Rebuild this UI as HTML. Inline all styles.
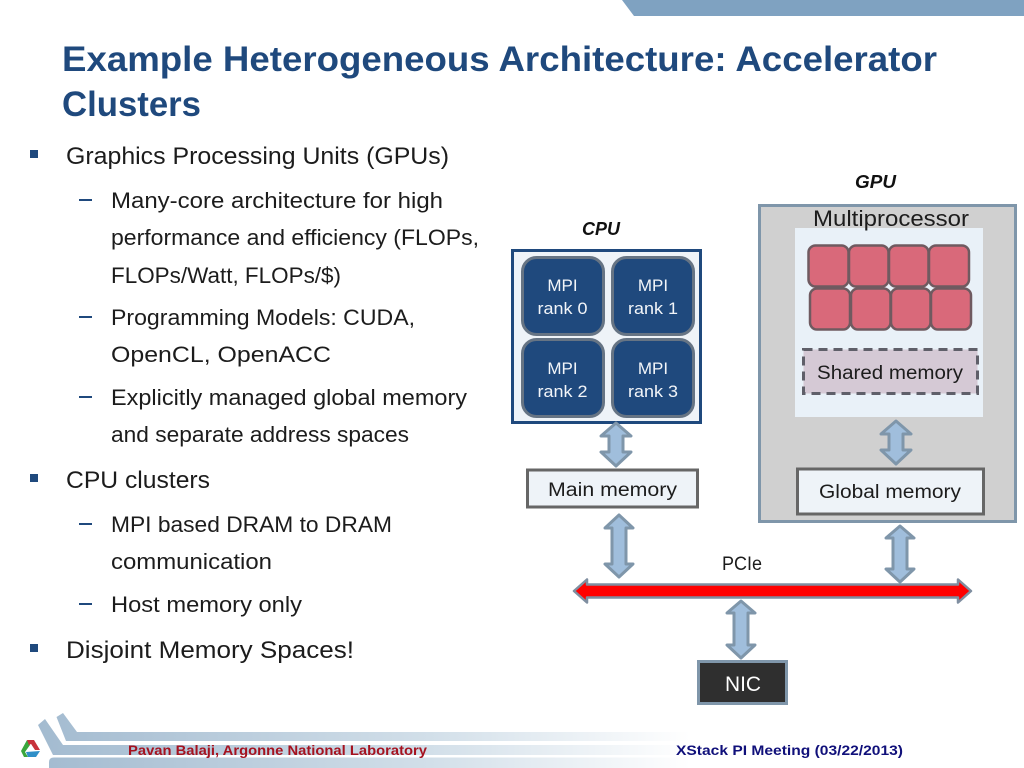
<!DOCTYPE html>
<html><head><meta charset="utf-8"><style>
html,body{margin:0;padding:0;background:#fff}
svg{display:block}
text{font-family:"Liberation Sans",sans-serif}
.b{font-size:24px;fill:#1c1c1c}
.s{font-size:22px;fill:#1c1c1c}
.t{font-size:35px;font-weight:bold;fill:#1f497d}
.m{font-size:17px;fill:#f2f5f9;text-anchor:middle}
.a{fill:#a0bedc;stroke:#7f96aa;stroke-width:3;stroke-linejoin:round}
</style></head><body>
<svg width="1024" height="768" viewBox="0 0 1024 768" xmlns="http://www.w3.org/2000/svg">
<defs><linearGradient id="g" gradientUnits="userSpaceOnUse" x1="40" y1="0" x2="690" y2="0"><stop offset="0" stop-color="#a3bbd0"/><stop offset=".6" stop-color="#d2dfe9"/><stop offset="1" stop-color="#fff"/></linearGradient></defs>
<rect width="1024" height="768" fill="#fff"/>
<polygon points="622,0 634,16 1024,16 1024,0" fill="#7fa2c1"/>
<text class="t" x="62" y="71" textLength="875" lengthAdjust="spacingAndGlyphs">Example Heterogeneous Architecture: Accelerator</text>
<text class="t" x="62" y="116" textLength="139" lengthAdjust="spacingAndGlyphs">Clusters</text>

<rect x="30" y="150" width="8" height="8" fill="#1f497d"/>
<rect x="30" y="474" width="8" height="8" fill="#1f497d"/>
<rect x="30" y="644" width="8" height="8" fill="#1f497d"/>
<g fill="#1f497d"><rect x="79" y="199" width="13" height="2"/><rect x="79" y="316" width="13" height="2"/><rect x="79" y="396" width="13" height="2"/><rect x="79" y="523" width="13" height="2"/><rect x="79" y="603" width="13" height="2"/></g>
<text class="b" x="66" y="164" textLength="383" lengthAdjust="spacingAndGlyphs">Graphics Processing Units (GPUs)</text>
<text class="s" x="111" y="208" textLength="332" lengthAdjust="spacingAndGlyphs">Many-core architecture for high</text>
<text class="s" x="111" y="245" textLength="368" lengthAdjust="spacingAndGlyphs">performance and efficiency (FLOPs,</text>
<text class="s" x="111" y="283" textLength="230" lengthAdjust="spacingAndGlyphs">FLOPs/Watt, FLOPs/$)</text>
<text class="s" x="111" y="325" textLength="304" lengthAdjust="spacingAndGlyphs">Programming Models: CUDA,</text>
<text class="s" x="111" y="362" textLength="220" lengthAdjust="spacingAndGlyphs">OpenCL, OpenACC</text>
<text class="s" x="111" y="405" textLength="356" lengthAdjust="spacingAndGlyphs">Explicitly managed global memory</text>
<text class="s" x="111" y="442" textLength="298" lengthAdjust="spacingAndGlyphs">and separate address spaces</text>
<text class="b" x="66" y="488" textLength="144" lengthAdjust="spacingAndGlyphs">CPU clusters</text>
<text class="s" x="111" y="532" textLength="281" lengthAdjust="spacingAndGlyphs">MPI based DRAM to DRAM</text>
<text class="s" x="111" y="569" textLength="161" lengthAdjust="spacingAndGlyphs">communication</text>
<text class="s" x="111" y="612" textLength="191" lengthAdjust="spacingAndGlyphs">Host memory only</text>
<text class="b" x="66" y="658" textLength="288" lengthAdjust="spacingAndGlyphs">Disjoint Memory Spaces!</text>

<!-- CPU -->
<text x="582" y="235" font-size="18" font-weight="bold" font-style="italic" fill="#111" textLength="38" lengthAdjust="spacingAndGlyphs">CPU</text>
<rect x="512.500" y="250.500" width="188" height="172" fill="#eef3f8" stroke="#1f497d" stroke-width="3"/>
<g fill="#1f497d" stroke="#667484" stroke-width="3">
<rect x="522.500" y="257.500" width="81" height="77" rx="14"/>
<rect x="612.500" y="257.500" width="81" height="77" rx="14"/>
<rect x="522.500" y="339.500" width="81" height="77" rx="14"/>
<rect x="612.500" y="339.500" width="81" height="77" rx="14"/>
</g>
<text class="m" x="562.500" y="291">MPI</text><text class="m" x="562.500" y="314" textLength="50" lengthAdjust="spacingAndGlyphs">rank 0</text>
<text class="m" x="653" y="291">MPI</text><text class="m" x="653" y="314" textLength="50" lengthAdjust="spacingAndGlyphs">rank 1</text>
<text class="m" x="562.500" y="374">MPI</text><text class="m" x="562.500" y="397" textLength="50" lengthAdjust="spacingAndGlyphs">rank 2</text>
<text class="m" x="653" y="374">MPI</text><text class="m" x="653" y="397" textLength="50" lengthAdjust="spacingAndGlyphs">rank 3</text>

<!-- GPU -->
<text x="855" y="188" font-size="18" font-weight="bold" font-style="italic" fill="#111" textLength="41" lengthAdjust="spacingAndGlyphs">GPU</text>
<rect x="759.500" y="205.500" width="256" height="316" fill="#d0d0d0" stroke="#7f96aa" stroke-width="3"/>
<rect x="795" y="228" width="188" height="189" fill="#e9f1f8"/>
<text x="813" y="226" font-size="22" fill="#1c1c1c" textLength="156" lengthAdjust="spacingAndGlyphs">Multiprocessor</text>
<g fill="#d9697a" stroke="#6f5a60" stroke-width="2.500">
<rect x="808.500" y="245.500" width="40" height="41" rx="7"/><rect x="849" y="245.500" width="39.500" height="41" rx="7"/><rect x="889" y="245.500" width="39.500" height="41" rx="7"/><rect x="929" y="245.500" width="40" height="41" rx="7"/>
<rect x="810" y="288.500" width="40" height="41" rx="7"/><rect x="851" y="288.500" width="39.500" height="41" rx="7"/><rect x="891" y="288.500" width="39.500" height="41" rx="7"/><rect x="931" y="288.500" width="40" height="41" rx="7"/>
</g>
<rect x="803.500" y="349.500" width="174" height="44" fill="#d5c9d5" stroke="#5f5f69" stroke-width="3" stroke-dasharray="9 6"/>
<text x="817" y="379" font-size="19" fill="#1c1c1c" textLength="146" lengthAdjust="spacingAndGlyphs">Shared memory</text>

<!-- Memory -->
<rect x="527.500" y="470" width="170" height="37" fill="#eef3f8" stroke="#666" stroke-width="3"/>
<text x="548" y="496" font-size="19" fill="#1c1c1c" textLength="129" lengthAdjust="spacingAndGlyphs">Main memory</text>
<rect x="797.500" y="469" width="186" height="45" fill="#eef3f8" stroke="#666" stroke-width="3"/>
<text x="819" y="498" font-size="19" fill="#1c1c1c" textLength="142" lengthAdjust="spacingAndGlyphs">Global memory</text>

<!-- Arrows -->
<polygon class="a" points="616,423 631,436 623,436 623,452 631,452 616,466 601,452 609,452 609,436 601,436"/>
<polygon class="a" points="896,421 911,434 903,434 903,450 911,450 896,464 881,450 889,450 889,434 881,434"/>
<polygon class="a" points="619,515 633,528 626,528 626,564 633,564 619,577 605,564 612,564 612,528 605,528"/>
<polygon class="a" points="900,526 914,538 907,538 907,569 914,569 900,582 886,569 893,569 893,538 886,538"/>
<polygon class="a" points="741,601 755,613 748,613 748,645 755,645 741,658 727,645 734,645 734,613 727,613"/>
<polygon points="574,591 587,579.500 587,584.500 958,584.500 958,579.500 971,591 958,602.500 958,597.500 587,597.500 587,602.500" fill="#f00" stroke="#7f8ea0" stroke-width="2.500" stroke-linejoin="round"/>
<text x="722" y="570" font-size="19" fill="#1c1c1c" textLength="40" lengthAdjust="spacingAndGlyphs">PCIe</text>

<!-- NIC -->
<rect x="698.500" y="661.500" width="88" height="42" fill="#2f2f2f" stroke="#7f96aa" stroke-width="3"/>
<text x="725" y="691" font-size="21" fill="#fff" textLength="36" lengthAdjust="spacingAndGlyphs">NIC</text>

<!-- Footer -->
<polygon points="56.500,717 63,713 77,732 700,732 700,741 66,741" fill="url(#g)"/>
<polygon points="38,725 45,719 63,745 700,745 700,755 53,755" fill="url(#g)"/>
<path d="M54,757.500H700V768H49V762Q49,757.500 54,757.500Z" fill="url(#g)"/>
<polygon points="21,751 27,740 30,745 25,752 28,757 24,757" fill="#3aa63c"/>
<polygon points="27,740 34,740 40,750 35,750 31,744 29,745" fill="#c8323c"/>
<polygon points="26,752 40,751 36,757 28,757" fill="#2f8fc8"/>
<polygon points="31,744 35,751 27,751" fill="#fff"/>
<text x="128" y="755" font-size="14" font-weight="bold" fill="#a5121f" textLength="299" lengthAdjust="spacingAndGlyphs">Pavan Balaji, Argonne National Laboratory</text>
<text x="676" y="755" font-size="14" font-weight="bold" fill="#10107a" textLength="227" lengthAdjust="spacingAndGlyphs">XStack PI Meeting (03/22/2013)</text>
</svg>
</body></html>
